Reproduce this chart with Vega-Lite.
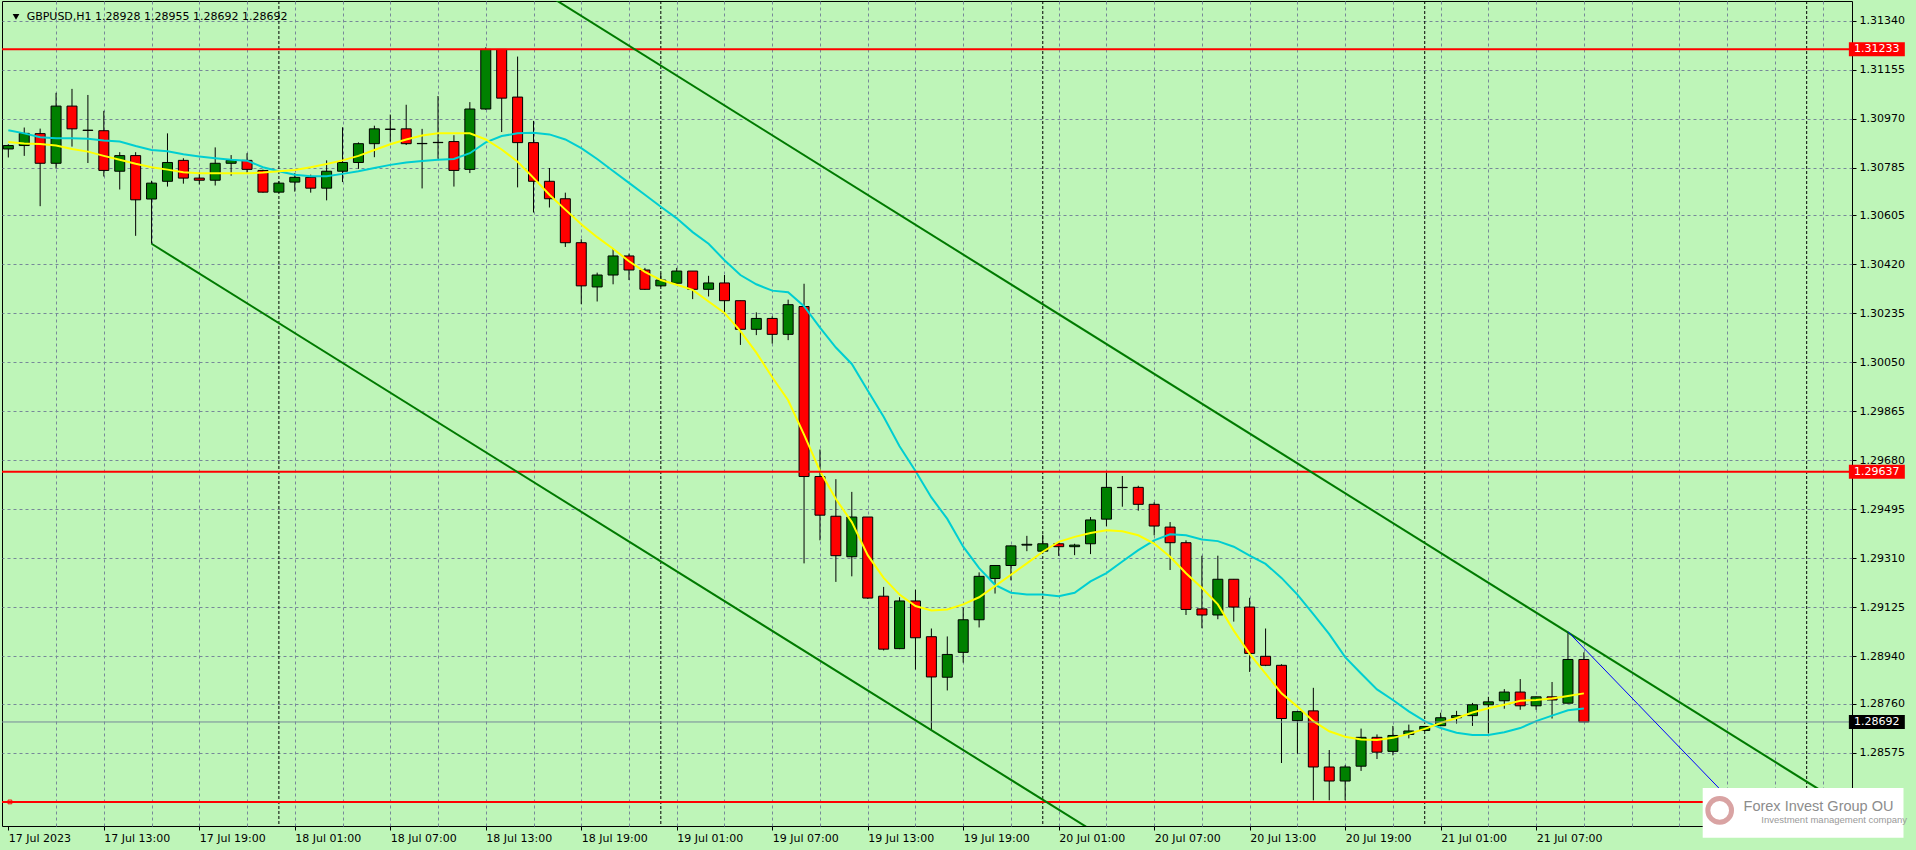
{
"$schema": "https://vega.github.io/schema/vega-lite/v6.json",
"width": 1850, "height": 825,
"autosize": "none",
"padding": {"left": 2, "top": 1, "right": 64, "bottom": 24},
"background": "#BEF5B8",
"config": {
  "view": {"stroke": "#000000", "strokeWidth": 1},
  "font": "DejaVu Sans",
  "axis": {"labelFont": "DejaVu Sans", "labelFontSize": 11, "labelColor": "#000000", "gridColor": "#778899", "gridDash": [3, 3], "gridWidth": 1, "domain": false, "tickColor": "#000000", "tickSize": 4, "labelOverlap": false, "labelFlush": false, "labelBound": false}
},
"datasets": {
  "candles": [
    {"t":"2023-07-17T07:00:00Z","o":1.30856,"h":1.30874,"l":1.30824,"c":1.30869,"f":1.30882,"s":1.30927},
    {"t":"2023-07-17T08:00:00Z","o":1.30869,"h":1.30937,"l":1.30830,"c":1.30915,"f":1.30877,"s":1.30915},
    {"t":"2023-07-17T09:00:00Z","o":1.30914,"h":1.30933,"l":1.30640,"c":1.30802,"f":1.30875,"s":1.30900},
    {"t":"2023-07-17T10:00:00Z","o":1.30802,"h":1.31068,"l":1.30783,"c":1.31018,"f":1.30869,"s":1.30897},
    {"t":"2023-07-17T11:00:00Z","o":1.31018,"h":1.31083,"l":1.30865,"c":1.30932,"f":1.30856,"s":1.30897},
    {"t":"2023-07-17T12:00:00Z","o":1.30927,"h":1.31060,"l":1.30803,"c":1.30926,"f":1.30846,"s":1.30895},
    {"t":"2023-07-17T13:00:00Z","o":1.30925,"h":1.31000,"l":1.30752,"c":1.30775,"f":1.30830,"s":1.30888},
    {"t":"2023-07-17T14:00:00Z","o":1.30772,"h":1.30844,"l":1.30703,"c":1.30831,"f":1.30815,"s":1.30884},
    {"t":"2023-07-17T15:00:00Z","o":1.30831,"h":1.30844,"l":1.30528,"c":1.30664,"f":1.30800,"s":1.30867},
    {"t":"2023-07-17T16:00:00Z","o":1.30667,"h":1.30736,"l":1.30498,"c":1.30727,"f":1.30787,"s":1.30852},
    {"t":"2023-07-17T17:00:00Z","o":1.30734,"h":1.30915,"l":1.30714,"c":1.30805,"f":1.30778,"s":1.30847},
    {"t":"2023-07-17T18:00:00Z","o":1.30813,"h":1.30821,"l":1.30725,"c":1.30746,"f":1.30768,"s":1.30836},
    {"t":"2023-07-17T19:00:00Z","o":1.30746,"h":1.30768,"l":1.30722,"c":1.30738,"f":1.30764,"s":1.30828},
    {"t":"2023-07-17T20:00:00Z","o":1.30738,"h":1.30862,"l":1.30718,"c":1.30802,"f":1.30764,"s":1.30821},
    {"t":"2023-07-17T21:00:00Z","o":1.30802,"h":1.30833,"l":1.30755,"c":1.30813,"f":1.30764,"s":1.30815},
    {"t":"2023-07-17T22:00:00Z","o":1.30813,"h":1.30840,"l":1.30765,"c":1.30779,"f":1.30764,"s":1.30812},
    {"t":"2023-07-17T23:00:00Z","o":1.30775,"h":1.30778,"l":1.30691,"c":1.30693,"f":1.30767,"s":1.30787},
    {"t":"2023-07-18T00:00:00Z","o":1.30693,"h":1.30734,"l":1.30691,"c":1.30727,"f":1.30772,"s":1.30772},
    {"t":"2023-07-18T01:00:00Z","o":1.30731,"h":1.30765,"l":1.30695,"c":1.30749,"f":1.30777,"s":1.30759},
    {"t":"2023-07-18T02:00:00Z","o":1.30749,"h":1.30759,"l":1.30691,"c":1.30708,"f":1.30787,"s":1.30753},
    {"t":"2023-07-18T03:00:00Z","o":1.30708,"h":1.30813,"l":1.30662,"c":1.30772,"f":1.30799,"s":1.30753},
    {"t":"2023-07-18T04:00:00Z","o":1.30772,"h":1.30938,"l":1.30731,"c":1.30805,"f":1.30813,"s":1.30762},
    {"t":"2023-07-18T05:00:00Z","o":1.30805,"h":1.30881,"l":1.30781,"c":1.30876,"f":1.30830,"s":1.30772},
    {"t":"2023-07-18T06:00:00Z","o":1.30876,"h":1.30944,"l":1.30825,"c":1.30932,"f":1.30852,"s":1.30784},
    {"t":"2023-07-18T07:00:00Z","o":1.30931,"h":1.30986,"l":1.30884,"c":1.30930,"f":1.30874,"s":1.30796},
    {"t":"2023-07-18T08:00:00Z","o":1.30932,"h":1.31023,"l":1.30871,"c":1.30876,"f":1.30892,"s":1.30805},
    {"t":"2023-07-18T09:00:00Z","o":1.30877,"h":1.30932,"l":1.30707,"c":1.30876,"f":1.30907,"s":1.30811},
    {"t":"2023-07-18T10:00:00Z","o":1.30881,"h":1.31056,"l":1.30819,"c":1.30880,"f":1.30915,"s":1.30815},
    {"t":"2023-07-18T11:00:00Z","o":1.30884,"h":1.30908,"l":1.30714,"c":1.30775,"f":1.30915,"s":1.30818},
    {"t":"2023-07-18T12:00:00Z","o":1.30779,"h":1.31033,"l":1.30765,"c":1.31007,"f":1.30915,"s":1.30840},
    {"t":"2023-07-18T13:00:00Z","o":1.31007,"h":1.31240,"l":1.31004,"c":1.31232,"f":1.30892,"s":1.30881},
    {"t":"2023-07-18T14:00:00Z","o":1.31232,"h":1.31233,"l":1.30920,"c":1.31048,"f":1.30854,"s":1.30905},
    {"t":"2023-07-18T15:00:00Z","o":1.31052,"h":1.31205,"l":1.30711,"c":1.30880,"f":1.30808,"s":1.30915},
    {"t":"2023-07-18T16:00:00Z","o":1.30880,"h":1.30962,"l":1.30616,"c":1.30734,"f":1.30747,"s":1.30917},
    {"t":"2023-07-18T17:00:00Z","o":1.30734,"h":1.30784,"l":1.30635,"c":1.30668,"f":1.30683,"s":1.30911},
    {"t":"2023-07-18T18:00:00Z","o":1.30668,"h":1.30691,"l":1.30486,"c":1.30502,"f":1.30627,"s":1.30892},
    {"t":"2023-07-18T19:00:00Z","o":1.30502,"h":1.30515,"l":1.30270,"c":1.30339,"f":1.30572,"s":1.30859},
    {"t":"2023-07-18T20:00:00Z","o":1.30335,"h":1.30389,"l":1.30280,"c":1.30380,"f":1.30523,"s":1.30818},
    {"t":"2023-07-18T21:00:00Z","o":1.30380,"h":1.30482,"l":1.30345,"c":1.30452,"f":1.30479,"s":1.30773},
    {"t":"2023-07-18T22:00:00Z","o":1.30452,"h":1.30461,"l":1.30361,"c":1.30399,"f":1.30432,"s":1.30728},
    {"t":"2023-07-18T23:00:00Z","o":1.30399,"h":1.30407,"l":1.30324,"c":1.30326,"f":1.30392,"s":1.30683},
    {"t":"2023-07-19T00:00:00Z","o":1.30339,"h":1.30386,"l":1.30336,"c":1.30361,"f":1.30361,"s":1.30638},
    {"t":"2023-07-19T01:00:00Z","o":1.30349,"h":1.30407,"l":1.30343,"c":1.30395,"f":1.30343,"s":1.30594},
    {"t":"2023-07-19T02:00:00Z","o":1.30395,"h":1.30395,"l":1.30289,"c":1.30326,"f":1.30324,"s":1.30542},
    {"t":"2023-07-19T03:00:00Z","o":1.30326,"h":1.30377,"l":1.30299,"c":1.30350,"f":1.30280,"s":1.30498},
    {"t":"2023-07-19T04:00:00Z","o":1.30350,"h":1.30380,"l":1.30240,"c":1.30283,"f":1.30237,"s":1.30436},
    {"t":"2023-07-19T05:00:00Z","o":1.30283,"h":1.30283,"l":1.30116,"c":1.30175,"f":1.30168,"s":1.30380},
    {"t":"2023-07-19T06:00:00Z","o":1.30175,"h":1.30239,"l":1.30153,"c":1.30216,"f":1.30087,"s":1.30345},
    {"t":"2023-07-19T07:00:00Z","o":1.30216,"h":1.30224,"l":1.30121,"c":1.30156,"f":1.29994,"s":1.30321},
    {"t":"2023-07-19T08:00:00Z","o":1.30156,"h":1.30287,"l":1.30134,"c":1.30268,"f":1.29907,"s":1.30315},
    {"t":"2023-07-19T09:00:00Z","o":1.30261,"h":1.30347,"l":1.29291,"c":1.29619,"f":1.29777,"s":1.30262},
    {"t":"2023-07-19T10:00:00Z","o":1.29619,"h":1.29721,"l":1.29378,"c":1.29473,"f":1.29640,"s":1.30181},
    {"t":"2023-07-19T11:00:00Z","o":1.29469,"h":1.29609,"l":1.29221,"c":1.29320,"f":1.29534,"s":1.30106},
    {"t":"2023-07-19T12:00:00Z","o":1.29316,"h":1.29561,"l":1.29242,"c":1.29466,"f":1.29447,"s":1.30044},
    {"t":"2023-07-19T13:00:00Z","o":1.29466,"h":1.29466,"l":1.29157,"c":1.29160,"f":1.29322,"s":1.29944},
    {"t":"2023-07-19T14:00:00Z","o":1.29167,"h":1.29202,"l":1.28962,"c":1.28967,"f":1.29236,"s":1.29845},
    {"t":"2023-07-19T15:00:00Z","o":1.28969,"h":1.29163,"l":1.28967,"c":1.29149,"f":1.29173,"s":1.29733},
    {"t":"2023-07-19T16:00:00Z","o":1.29149,"h":1.29192,"l":1.28890,"c":1.29010,"f":1.29130,"s":1.29640},
    {"t":"2023-07-19T17:00:00Z","o":1.29014,"h":1.29045,"l":1.28661,"c":1.28862,"f":1.29113,"s":1.29540},
    {"t":"2023-07-19T18:00:00Z","o":1.28861,"h":1.29015,"l":1.28811,"c":1.28947,"f":1.29117,"s":1.29459},
    {"t":"2023-07-19T19:00:00Z","o":1.28955,"h":1.29124,"l":1.28916,"c":1.29078,"f":1.29136,"s":1.29354},
    {"t":"2023-07-19T20:00:00Z","o":1.29078,"h":1.29257,"l":1.29049,"c":1.29242,"f":1.29163,"s":1.29273},
    {"t":"2023-07-19T21:00:00Z","o":1.29234,"h":1.29284,"l":1.29177,"c":1.29283,"f":1.29205,"s":1.29210},
    {"t":"2023-07-19T22:00:00Z","o":1.29283,"h":1.29359,"l":1.29227,"c":1.29357,"f":1.29248,"s":1.29180},
    {"t":"2023-07-19T23:00:00Z","o":1.29360,"h":1.29395,"l":1.29337,"c":1.29363,"f":1.29291,"s":1.29173},
    {"t":"2023-07-20T00:00:00Z","o":1.29337,"h":1.29399,"l":1.29336,"c":1.29365,"f":1.29335,"s":1.29173},
    {"t":"2023-07-20T01:00:00Z","o":1.29365,"h":1.29366,"l":1.29319,"c":1.29354,"f":1.29372,"s":1.29167},
    {"t":"2023-07-20T02:00:00Z","o":1.29354,"h":1.29365,"l":1.29322,"c":1.29360,"f":1.29391,"s":1.29180},
    {"t":"2023-07-20T03:00:00Z","o":1.29365,"h":1.29466,"l":1.29326,"c":1.29455,"f":1.29406,"s":1.29223},
    {"t":"2023-07-20T04:00:00Z","o":1.29458,"h":1.29634,"l":1.29431,"c":1.29578,"f":1.29416,"s":1.29254},
    {"t":"2023-07-20T05:00:00Z","o":1.29578,"h":1.29621,"l":1.29505,"c":1.29577,"f":1.29412,"s":1.29298},
    {"t":"2023-07-20T06:00:00Z","o":1.29578,"h":1.29584,"l":1.29490,"c":1.29514,"f":1.29397,"s":1.29341},
    {"t":"2023-07-20T07:00:00Z","o":1.29514,"h":1.29522,"l":1.29397,"c":1.29432,"f":1.29366,"s":1.29378},
    {"t":"2023-07-20T08:00:00Z","o":1.29428,"h":1.29447,"l":1.29266,"c":1.29369,"f":1.29316,"s":1.29401},
    {"t":"2023-07-20T09:00:00Z","o":1.29369,"h":1.29378,"l":1.29096,"c":1.29117,"f":1.29254,"s":1.29397},
    {"t":"2023-07-20T10:00:00Z","o":1.29119,"h":1.29320,"l":1.29046,"c":1.29096,"f":1.29198,"s":1.29381},
    {"t":"2023-07-20T11:00:00Z","o":1.29096,"h":1.29320,"l":1.29080,"c":1.29231,"f":1.29136,"s":1.29375},
    {"t":"2023-07-20T12:00:00Z","o":1.29231,"h":1.29232,"l":1.29071,"c":1.29126,"f":1.29037,"s":1.29354},
    {"t":"2023-07-20T13:00:00Z","o":1.29126,"h":1.29161,"l":1.28881,"c":1.28951,"f":1.28949,"s":1.29320},
    {"t":"2023-07-20T14:00:00Z","o":1.28940,"h":1.29045,"l":1.28903,"c":1.28906,"f":1.28875,"s":1.29289},
    {"t":"2023-07-20T15:00:00Z","o":1.28906,"h":1.28910,"l":1.28537,"c":1.28705,"f":1.28800,"s":1.29236},
    {"t":"2023-07-20T16:00:00Z","o":1.28697,"h":1.28732,"l":1.28572,"c":1.28731,"f":1.28750,"s":1.29173},
    {"t":"2023-07-20T17:00:00Z","o":1.28734,"h":1.28821,"l":1.28396,"c":1.28522,"f":1.28695,"s":1.29099},
    {"t":"2023-07-20T18:00:00Z","o":1.28522,"h":1.28586,"l":1.28396,"c":1.28469,"f":1.28657,"s":1.29024},
    {"t":"2023-07-20T19:00:00Z","o":1.28469,"h":1.28529,"l":1.28396,"c":1.28522,"f":1.28636,"s":1.28937},
    {"t":"2023-07-20T20:00:00Z","o":1.28525,"h":1.28667,"l":1.28507,"c":1.28634,"f":1.28626,"s":1.28875},
    {"t":"2023-07-20T21:00:00Z","o":1.28634,"h":1.28645,"l":1.28552,"c":1.28578,"f":1.28624,"s":1.28815},
    {"t":"2023-07-20T22:00:00Z","o":1.28581,"h":1.28677,"l":1.28566,"c":1.28641,"f":1.28632,"s":1.28775},
    {"t":"2023-07-20T23:00:00Z","o":1.28645,"h":1.28682,"l":1.28630,"c":1.28658,"f":1.28647,"s":1.28732},
    {"t":"2023-07-21T00:00:00Z","o":1.28660,"h":1.28676,"l":1.28657,"c":1.28675,"f":1.28666,"s":1.28695},
    {"t":"2023-07-21T01:00:00Z","o":1.28678,"h":1.28727,"l":1.28676,"c":1.28708,"f":1.28688,"s":1.28669},
    {"t":"2023-07-21T02:00:00Z","o":1.28708,"h":1.28734,"l":1.28686,"c":1.28716,"f":1.28707,"s":1.28651},
    {"t":"2023-07-21T03:00:00Z","o":1.28716,"h":1.28764,"l":1.28677,"c":1.28757,"f":1.28728,"s":1.28643},
    {"t":"2023-07-21T04:00:00Z","o":1.28757,"h":1.28787,"l":1.28649,"c":1.28768,"f":1.28744,"s":1.28643},
    {"t":"2023-07-21T05:00:00Z","o":1.28772,"h":1.28816,"l":1.28742,"c":1.28805,"f":1.28757,"s":1.28653},
    {"t":"2023-07-21T06:00:00Z","o":1.28805,"h":1.28854,"l":1.28738,"c":1.28753,"f":1.28772,"s":1.28669},
    {"t":"2023-07-21T07:00:00Z","o":1.28753,"h":1.28788,"l":1.28738,"c":1.28787,"f":1.28775,"s":1.28695},
    {"t":"2023-07-21T08:00:00Z","o":1.28787,"h":1.28843,"l":1.28705,"c":1.28775,"f":1.28781,"s":1.28716},
    {"t":"2023-07-21T09:00:00Z","o":1.28763,"h":1.29033,"l":1.28762,"c":1.28928,"f":1.28790,"s":1.28736},
    {"t":"2023-07-21T10:00:00Z","o":1.28928,"h":1.28955,"l":1.28692,"c":1.28692,"f":1.28800,"s":1.28743}
  ],
  "days": [
    {"t":"2023-07-18T00:00:00Z"},{"t":"2023-07-19T00:00:00Z"},{"t":"2023-07-20T00:00:00Z"},{"t":"2023-07-21T00:00:00Z"},{"t":"2023-07-22T00:00:00Z"}
  ],
  "levels": [
    {"p":1.31233,"k":"res","label":"1.31233"},
    {"p":1.29637,"k":"res","label":"1.29637"},
    {"p":1.28390,"k":"sup","label":"1.28390"},
    {"p":1.28692,"k":"bid","label":"1.28692"}
  ],
  "trend": [
    {"id":"upper","t":"2023-07-18T13:00:00Z","p":1.31584},
    {"id":"upper","t":"2023-07-22T03:00:00Z","p":1.28354},
    {"id":"lower","t":"2023-07-17T16:00:00Z","p":1.30498},
    {"id":"lower","t":"2023-07-20T05:00:00Z","p":1.28211}
  ],
  "blue": [
    {"t":"2023-07-21T09:00:00Z","p":1.29033},
    {"t":"2023-07-21T23:00:00Z","p":1.28161}
  ]
},
"layer": [
  {
    "data": {"name": "candles"},
    "mark": {"type": "rule", "color": "#000000", "strokeWidth": 1},
    "encoding": {
      "x": {"field": "t", "type": "temporal", "title": null,
        "scale": {"type": "utc", "domain": [1689576900000, 1689993120000]},
        "axis": {"orient": "bottom", "grid": true, "labelAlign": "left", "labelBaseline": "top", "labelPadding": 2,
          "values": [1689577200000,1689588000000,1689598800000,1689609600000,1689620400000,1689631200000,1689642000000,1689652800000,1689663600000,1689674400000,1689685200000,1689696000000,1689706800000,1689717600000,1689728400000,1689739200000,1689750000000,1689760800000,1689771600000,1689782400000,1689793200000,1689804000000,1689814800000,1689825600000,1689836400000,1689847200000,1689858000000,1689868800000,1689879600000,1689890400000,1689901200000,1689912000000,1689922800000,1689933600000,1689944400000,1689955200000,1689966000000,1689976800000,1689987600000],
          "labelExpr": "utchours(datum.value) % 6 == 1 && time(datum.value) <= 1689922800000 ? (time(datum.value) == 1689577200000 ? '17 Jul 2023' : utcFormat(datum.value, '%d %b %H:%M')) : ''",
          "tickOpacity": {"condition": {"test": "utchours(datum.value) % 6 == 1 && time(datum.value) <= 1689922800000", "value": 1}, "value": 0},
          "gridOpacity": {"condition": {"test": "time(datum.value) == 1689577200000", "value": 0}, "value": 1}
        }
      },
      "y": {"field": "l", "type": "quantitative", "title": null,
        "scale": {"domain": [1.28318, 1.31396], "nice": false, "zero": false},
        "axis": {"orient": "right", "grid": true, "format": ".5f", "labelPadding": 3, "labelAlign": "left", "labelBaseline": "middle",
          "values": [1.3134, 1.31155, 1.3097, 1.30785, 1.30605, 1.3042, 1.30235, 1.3005, 1.29865, 1.2968, 1.29495, 1.2931, 1.29125, 1.2894, 1.2876, 1.28575]}
      },
      "y2": {"field": "h"}
    }
  },
  {
    "data": {"name": "days"},
    "mark": {"type": "rule", "color": "#000000", "strokeWidth": 1, "strokeDash": [3, 2]},
    "encoding": {
      "x": {"field": "t", "type": "temporal", "title": null, "scale": {"type": "utc", "domain": [1689576900000, 1689993120000]}}
    }
  },
  {
    "data": {"name": "candles"},
    "mark": {"type": "bar", "width": 10, "stroke": "#000000", "strokeWidth": 1},
    "encoding": {
      "x": {"field": "t", "type": "temporal", "title": null, "scale": {"type": "utc", "domain": [1689576900000, 1689993120000]}},
      "y": {"field": "o", "type": "quantitative", "title": null, "scale": {"domain": [1.28318, 1.31396], "nice": false, "zero": false}},
      "y2": {"field": "c"},
      "fill": {"condition": {"test": "datum.c >= datum.o", "value": "#008000"}, "value": "#FF0000"}
    }
  },
  {
    "data": {"name": "candles"},
    "mark": {"type": "line", "color": "#00CED1", "strokeWidth": 2},
    "encoding": {
      "x": {"field": "t", "type": "temporal", "title": null, "scale": {"type": "utc", "domain": [1689576900000, 1689993120000]}},
      "y": {"field": "s", "type": "quantitative", "title": null, "scale": {"domain": [1.28318, 1.31396], "nice": false, "zero": false}}
    }
  },
  {
    "data": {"name": "candles"},
    "mark": {"type": "line", "color": "#FFFF00", "strokeWidth": 2},
    "encoding": {
      "x": {"field": "t", "type": "temporal", "title": null, "scale": {"type": "utc", "domain": [1689576900000, 1689993120000]}},
      "y": {"field": "f", "type": "quantitative", "title": null, "scale": {"domain": [1.28318, 1.31396], "nice": false, "zero": false}}
    }
  },
  {
    "data": {"name": "levels"},
    "transform": [{"filter": "datum.k == 'bid'"}],
    "mark": {"type": "rule", "color": "#778899", "strokeWidth": 1},
    "encoding": {
      "y": {"field": "p", "type": "quantitative", "title": null, "scale": {"domain": [1.28318, 1.31396], "nice": false, "zero": false}}
    }
  },
  {
    "data": {"name": "levels"},
    "transform": [{"filter": "datum.k != 'bid'"}],
    "mark": {"type": "rule", "color": "#FF0000", "strokeWidth": 2},
    "encoding": {
      "y": {"field": "p", "type": "quantitative", "title": null, "scale": {"domain": [1.28318, 1.31396], "nice": false, "zero": false}}
    }
  },
  {
    "data": {"name": "trend"},
    "mark": {"type": "line", "color": "#007A00", "strokeWidth": 2, "clip": true},
    "encoding": {
      "x": {"field": "t", "type": "temporal", "title": null, "scale": {"type": "utc", "domain": [1689576900000, 1689993120000]}},
      "y": {"field": "p", "type": "quantitative", "title": null, "scale": {"domain": [1.28318, 1.31396], "nice": false, "zero": false}},
      "detail": {"field": "id"}
    }
  },
  {
    "data": {"name": "blue"},
    "mark": {"type": "line", "color": "#0000FF", "strokeWidth": 1, "clip": true},
    "encoding": {
      "x": {"field": "t", "type": "temporal", "title": null, "scale": {"type": "utc", "domain": [1689576900000, 1689993120000]}},
      "y": {"field": "p", "type": "quantitative", "title": null, "scale": {"domain": [1.28318, 1.31396], "nice": false, "zero": false}}
    }
  },
  {
    "data": {"name": "levels"},
    "transform": [{"filter": "datum.k != 'sup'"}],
    "mark": {"type": "bar", "size": 14},
    "encoding": {
      "x": {"datum": 1689993540000, "type": "temporal", "title": null, "scale": {"type": "utc", "domain": [1689576900000, 1689993120000]}},
      "x2": {"datum": 1690006200000},
      "y": {"field": "p", "type": "quantitative", "title": null, "scale": {"domain": [1.28318, 1.31396], "nice": false, "zero": false}},
      "fill": {"condition": {"test": "datum.k == 'bid'", "value": "#000000"}, "value": "#FF0000"}
    }
  },
  {
    "data": {"name": "levels"},
    "transform": [{"filter": "datum.k != 'sup'"}],
    "mark": {"type": "text", "align": "left", "baseline": "middle", "font": "DejaVu Sans", "fontSize": 11, "color": "#FFFFFF"},
    "encoding": {
      "x": {"datum": 1689994680000, "type": "temporal", "title": null, "scale": {"type": "utc", "domain": [1689576900000, 1689993120000]}},
      "y": {"field": "p", "type": "quantitative", "title": null, "scale": {"domain": [1.28318, 1.31396], "nice": false, "zero": false}},
      "text": {"field": "label"}
    }
  },
  {
    "data": {"values": [{"name": "logo"}]},
    "mark": {"type": "rect", "fill": "#FFFFFF"},
    "encoding": {
      "x": {"datum": 1689960480000, "type": "temporal", "title": null, "scale": {"type": "utc", "domain": [1689576900000, 1689993120000]}},
      "x2": {"datum": 1690005900000},
      "y": {"datum": 1.28443, "type": "quantitative", "title": null, "scale": {"domain": [1.28318, 1.31396], "nice": false, "zero": false}},
      "y2": {"datum": 1.28255}
    }
  },
  {
    "data": {"values": [{"name": "logo"}]},
    "mark": {"type": "point", "shape": "circle", "size": 560, "filled": false, "stroke": "#D9A3A3", "strokeWidth": 5, "opacity": 1},
    "encoding": {
      "x": {"datum": 1689964320000, "type": "temporal", "title": null, "scale": {"type": "utc", "domain": [1689576900000, 1689993120000]}},
      "y": {"datum": 1.28358, "type": "quantitative", "title": null, "scale": {"domain": [1.28318, 1.31396], "nice": false, "zero": false}}
    }
  },
  {
    "data": {"values": [{"txt": "Forex Invest Group OU"}]},
    "mark": {"type": "text", "align": "left", "baseline": "middle", "font": "Liberation Sans", "fontSize": 14.5, "color": "#8C8C8C"},
    "encoding": {
      "x": {"datum": 1689969720000, "type": "temporal", "title": null, "scale": {"type": "utc", "domain": [1689576900000, 1689993120000]}},
      "y": {"datum": 1.2837, "type": "quantitative", "title": null, "scale": {"domain": [1.28318, 1.31396], "nice": false, "zero": false}},
      "text": {"field": "txt"}
    }
  },
  {
    "data": {"values": [{"txt": "Investment management company"}]},
    "mark": {"type": "text", "align": "left", "baseline": "middle", "font": "Liberation Sans", "fontSize": 9.5, "color": "#9A9A9A"},
    "encoding": {
      "x": {"datum": 1689973740000, "type": "temporal", "title": null, "scale": {"type": "utc", "domain": [1689576900000, 1689993120000]}},
      "y": {"datum": 1.28321, "type": "quantitative", "title": null, "scale": {"domain": [1.28318, 1.31396], "nice": false, "zero": false}},
      "text": {"field": "txt"}
    }
  },
  {
    "data": {"values": [{"txt": "GBPUSD,H1  1.28928 1.28955 1.28692 1.28692"}]},
    "mark": {"type": "text", "align": "left", "baseline": "middle", "font": "DejaVu Sans", "fontSize": 11, "color": "#000000"},
    "encoding": {
      "x": {"datum": 1689581340000, "type": "temporal", "title": null, "scale": {"type": "utc", "domain": [1689576900000, 1689993120000]}},
      "y": {"datum": 1.31355, "type": "quantitative", "title": null, "scale": {"domain": [1.28318, 1.31396], "nice": false, "zero": false}},
      "text": {"field": "txt"}
    }
  },
  {
    "data": {"values": [{"name": "menu"}]},
    "mark": {"type": "point", "shape": "triangle-down", "size": 45, "filled": true, "color": "#000000", "opacity": 1},
    "encoding": {
      "x": {"datum": 1689578940000, "type": "temporal", "title": null, "scale": {"type": "utc", "domain": [1689576900000, 1689993120000]}},
      "y": {"datum": 1.31355, "type": "quantitative", "title": null, "scale": {"domain": [1.28318, 1.31396], "nice": false, "zero": false}}
    }
  },
  {
    "data": {"values": [{"name": "anchor"}]},
    "mark": {"type": "point", "shape": "square", "size": 14, "filled": false, "stroke": "#FF0000", "strokeWidth": 1, "opacity": 1},
    "encoding": {
      "x": {"datum": 1689577560000, "type": "temporal", "title": null, "scale": {"type": "utc", "domain": [1689576900000, 1689993120000]}},
      "y": {"datum": 1.2839, "type": "quantitative", "title": null, "scale": {"domain": [1.28318, 1.31396], "nice": false, "zero": false}}
    }
  }
]
}
